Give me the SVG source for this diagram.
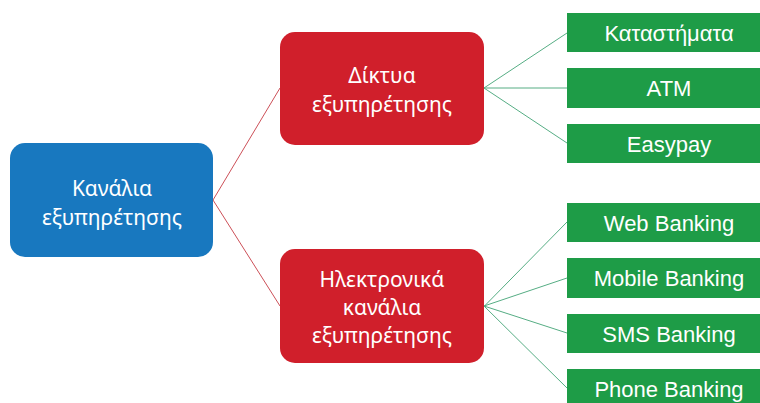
<svg xmlns="http://www.w3.org/2000/svg" width="760" height="403" viewBox="0 0 760 403">
<style>
.t{font-family:"Noto Sans","Liberation Sans",sans-serif;font-size:21px;fill:#ffffff;text-anchor:middle}
.g{font-family:"Liberation Sans",Arial,sans-serif;font-size:22px;fill:#ffffff;text-anchor:middle}
.blue{fill:#1878bf}
.red{fill:#d01f2b}
.green{fill:#1e9c47}
.lr{stroke:#cc5058;stroke-width:1;fill:none}
.lg{stroke:#56ad84;stroke-width:1;fill:none}
</style>
<rect width="760" height="403" fill="#ffffff"/>
<g id="connectors">
<line class="lr" x1="213" y1="200" x2="280" y2="88"/>
<line class="lr" x1="213" y1="200" x2="280" y2="306"/>
<line class="lg" x1="484" y1="88" x2="567" y2="33"/>
<line class="lg" x1="484" y1="88" x2="567" y2="88"/>
<line class="lg" x1="484" y1="88" x2="567" y2="143"/>
<line class="lg" x1="484" y1="306.5" x2="567" y2="222"/>
<line class="lg" x1="484" y1="306" x2="567" y2="278"/>
<line class="lg" x1="484" y1="306" x2="567" y2="333"/>
<line class="lg" x1="484" y1="306" x2="567" y2="388"/>
</g>
<g id="root">
<rect class="blue" x="10" y="143" width="203" height="114" rx="15"/>
<text class="t" x="112" y="196">Κανάλια</text>
<text class="t" x="112" y="225">εξυπηρέτησης</text>
</g>
<g id="diktya">
<rect class="red" x="280" y="32" width="204" height="113" rx="15"/>
<text class="t" x="382" y="83">Δίκτυα</text>
<text class="t" x="382" y="112">εξυπηρέτησης</text>
</g>
<g id="ilektronika">
<rect class="red" x="280" y="249" width="204" height="114" rx="15"/>
<text class="t" x="382" y="287">Ηλεκτρονικά</text>
<text class="t" x="382" y="315">κανάλια</text>
<text class="t" x="382" y="343">εξυπηρέτησης</text>
</g>
<g id="katastimata">
<rect class="green" x="567" y="13" width="204" height="39"/>
<text class="g" x="669" y="41">Καταστήματα</text>
</g>
<g id="atm">
<rect class="green" x="567" y="68" width="204" height="40"/>
<text class="g" x="669" y="96">ATM</text>
</g>
<g id="easypay">
<rect class="green" x="567" y="124" width="204" height="39"/>
<text class="g" x="669" y="152">Easypay</text>
</g>
<g id="web">
<rect class="green" x="567" y="203" width="204" height="39"/>
<text class="g" x="669" y="231">Web Banking</text>
</g>
<g id="mobile">
<rect class="green" x="567" y="258" width="204" height="40"/>
<text class="g" x="669" y="286">Mobile Banking</text>
</g>
<g id="sms">
<rect class="green" x="567" y="314" width="204" height="39"/>
<text class="g" x="669" y="342">SMS Banking</text>
</g>
<g id="phone">
<rect class="green" x="567" y="369" width="204" height="40"/>
<text class="g" x="669" y="397">Phone Banking</text>
</g>
</svg>
